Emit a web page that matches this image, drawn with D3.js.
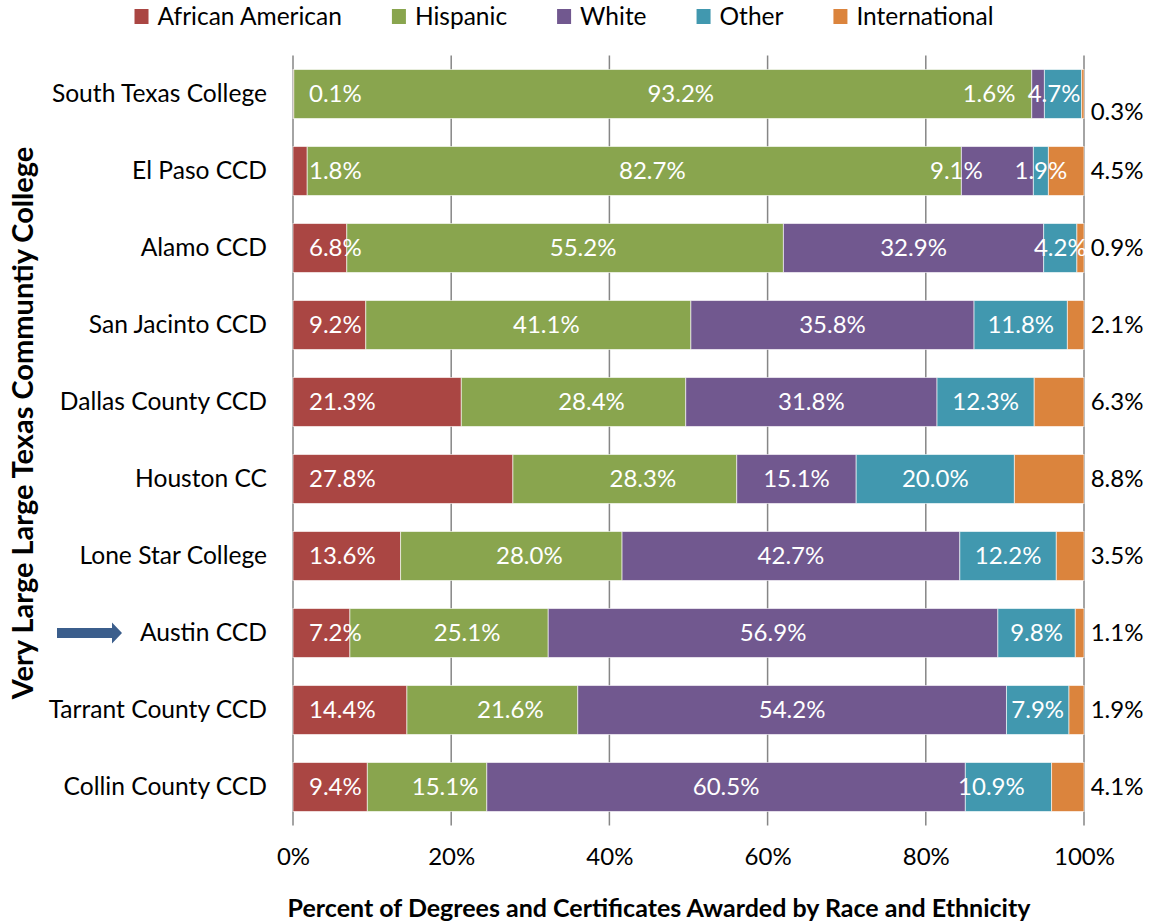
<!DOCTYPE html>
<html>
<head>
<meta charset="utf-8">
<script src="https://cdn.jsdelivr.net/npm/d3@7"></script>
<style>
  body { margin: 0; background: #fff; }
  svg { display: block; font-family: Lato, 'Open Sans', sans-serif; }
</style>
</head>
<body>
<div id="chart"></div>
<script>
//Datos
const colleges = ['South Texas College', 'El Paso CCD', 'Alamo CCD', 'San Jacinto CCD', 'Dallas County CCD',
    'Houston CC', 'Lone Star College', 'Austin CCD', 'Tarrant County CCD', 'Collin County CCD'];
const groups = ['African American', 'Hispanic', 'White', 'Other', 'International'];
const africanAmerican = [0.1, 1.8, 6.8, 9.2, 21.3, 27.8, 13.6, 7.2, 14.4, 9.4];
const hispanic = [93.2, 82.7, 55.2, 41.1, 28.4, 28.3, 28.0, 25.1, 21.6, 15.1];
const white = [1.6, 9.1, 32.9, 35.8, 31.8, 15.1, 42.7, 56.9, 54.2, 60.5];
const other = [4.7, 1.9, 4.2, 11.8, 12.3, 20.0, 12.2, 9.8, 7.9, 10.9];
const international = [0.3, 4.5, 0.9, 2.1, 6.3, 8.8, 3.5, 1.1, 1.9, 4.1];
const xTicks = [0, 0.2, 0.4, 0.6, 0.8, 1];

const colors = ['#AA4643', '#89A54E', '#71588F', '#4198AF', '#DB843D'];
const series = [africanAmerican, hispanic, white, other, international];

//Tabla para d3.stack
let table = colleges.map((c, i) => {
    let row = { college: c };
    groups.forEach((g, j) => { row[g] = series[j][i]; });
    return row;
});

let margin = {top: 55.5, right: 78, bottom: 97.5, left: 293};
let W = 1162, H = 923;
let width = W - margin.left - margin.right,
    height = H - margin.top - margin.bottom;

let svg = d3.select('#chart').append('svg')
    .attr('width', W)
    .attr('height', H);

let chart = svg.append('g')
    .attr('transform', 'translate(' + margin.left + ',' + margin.top + ')');

let x = d3.scaleLinear().domain([0, 1]).range([0, width]);
let y = d3.scaleBand().domain(colleges).range([0, height]).paddingInner(0.364).paddingOuter(0.182);

//Rejilla
chart.append('g')
    .selectAll('line')
    .data(xTicks)
    .enter()
    .append('line')
    .attr('x1', d => x(d)).attr('x2', d => x(d))
    .attr('y1', 0).attr('y2', height)
    .attr('stroke', '#868686')
    .attr('stroke-width', 1.5);

//Eje X (sólo etiquetas)
let xAxis = chart.append('g')
    .attr('transform', 'translate(0,' + height + ')')
    .call(d3.axisBottom(x).tickValues(xTicks).tickFormat(d3.format('.0%')).tickSize(0).tickPadding(22));
xAxis.select('.domain').remove();
xAxis.selectAll('text')
    .attr('font-family', 'Lato, sans-serif')
    .attr('font-size', '24px')
    .attr('fill', '#000');

//Eje Y
let yAxis = chart.append('g')
    .call(d3.axisLeft(y).tickSize(0).tickPadding(26));
yAxis.select('.domain').remove();
yAxis.selectAll('text')
    .attr('font-family', 'Lato, sans-serif')
    .attr('font-size', '24.6px')
    .attr('fill', '#000');

//Barras apiladas
let stacked = d3.stack().keys(groups).offset(d3.stackOffsetExpand)(table);

let layers = chart.selectAll('.layer')
    .data(stacked)
    .enter()
    .append('g')
    .attr('class', 'layer')
    .attr('fill', (d, i) => colors[i]);

layers.selectAll('rect')
    .data(d => d)
    .enter()
    .append('rect')
    .attr('x', d => x(d[0]))
    .attr('y', d => y(d.data.college))
    .attr('width', d => x(d[1]) - x(d[0]))
    .attr('height', y.bandwidth())
    .attr('stroke', 'rgba(255,255,255,0.6)')
    .attr('stroke-width', 1);

//Ajustes manuales de etiquetas (como en el original)
let nudge = {
    'South Texas College|White': -49,
    'El Paso CCD|White': -41,
    'South Texas College|Other': -9,
    'Collin County CCD|Other': -17
};

//Etiquetas por encima de todas las barras
let labels = chart.append('g').attr('class', 'labels');
stacked.forEach((layer, k) => {
    labels.append('g')
        .selectAll('text')
        .data(layer)
        .enter()
        .append('text')
        .attr('x', d => {
            let key = d.data.college + '|' + layer.key;
            if (k === 0) return x(d[0]) + 16;
            if (k === 4) return width + 33;
            let cx = (x(d[0]) + x(d[1])) / 2;
            if (k === 1) cx += 18;
            return cx + (nudge[key] || 0);
        })
        .attr('y', d => {
            let cy = y(d.data.college) + y.bandwidth() / 2;
            if (k === 4 && d.data.college === 'South Texas College') cy += 18;
            return cy;
        })
        .attr('dy', '0.35em')
        .attr('text-anchor', k === 0 ? 'start' : 'middle')
        .attr('font-size', '24px')
        .attr('fill', k === 4 ? '#000' : '#fff')
        .text(d => d.data[layer.key].toFixed(1) + '%');
});

//Flecha junto a Austin CCD
let ay = margin.top + y('Austin CCD') + y.bandwidth() / 2;
svg.append('path')
    .attr('d', 'M57,' + (ay - 5) + 'H112V' + (ay - 10.5) + 'L122,' + ay + 'L112,' + (ay + 10.5) + 'V' + (ay + 5) + 'H57Z')
    .attr('fill', '#3B5E8C');

//Títulos de ejes
svg.append('text')
    .attr('x', 659)
    .attr('y', 908)
    .attr('dy', '0.35em')
    .attr('text-anchor', 'middle')
    .attr('font-size', '25px')
    .attr('font-weight', 'bold')
    .text('Percent of Degrees and Certificates Awarded by Race and Ethnicity');

svg.append('text')
    .attr('transform', 'translate(23,423) rotate(-90)')
    .attr('dy', '0.35em')
    .attr('text-anchor', 'middle')
    .attr('font-size', '29px')
    .attr('font-weight', 'bold')
    .text('Very Large Large Texas Communtiy College');

//Leyenda
let legend = svg.append('g');
let lx = 0;
groups.forEach((g, i) => {
    let item = legend.append('g').attr('transform', 'translate(' + lx + ',0)');
    item.append('rect')
        .attr('x', 0).attr('y', 9)
        .attr('width', 14).attr('height', 15)
        .attr('fill', colors[i]);
    let t = item.append('text')
        .attr('x', 23).attr('y', 16)
        .attr('dy', '0.35em')
        .attr('font-size', '24.5px')
        .text(g);
    lx += 23 + t.node().getComputedTextLength() + 50;
});
legend.attr('transform', 'translate(' + (564 - (lx - 50) / 2) + ',0)');
</script>
</body>
</html>
